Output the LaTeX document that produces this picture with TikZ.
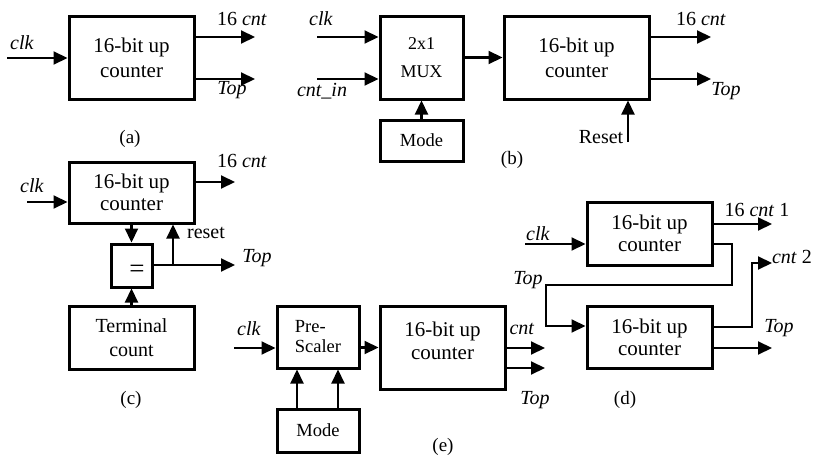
\documentclass[tikz,border=0pt]{standalone}
\usepackage{fontspec}
\setmainfont{Liberation Serif}
\usetikzlibrary{arrows.meta}
\begin{document}
\begin{tikzpicture}[x=1pt,y=-1pt,
  box/.style={draw, line width=3pt, inner sep=0pt, align=center, font=\fontsize{21}{25}\selectfont},
  sbox/.style={draw, line width=3pt, inner sep=0pt, align=center, font=\fontsize{18.5}{23}\selectfont},
  arr/.style={line width=2.1pt, -{Triangle[length=14pt,width=13pt]}},
  lbl/.style={inner sep=0pt, font=\fontsize{20}{24}\selectfont},
  subcap/.style={inner sep=0pt, font=\fontsize{19}{23}\selectfont}]
\useasboundingbox (0,0) rectangle (815,455);

% ---------------- (a)
\node[box, minimum width=125pt, minimum height=83pt] (cA) at (131.5,57.5) {16-bit up\\counter};
\coordinate (aclk) at (7,58);
\coordinate (acnt) at (255,37);
\coordinate (atop) at (255,79);
\draw[arr] (aclk) -- (aclk -| cA.west);
\draw[arr] (acnt -| cA.east) -- (acnt);
\draw[arr] (atop -| cA.east) -- (atop);
\node[lbl] (aclkl) at (22,43) {\textit{clk}};
\node[lbl] (acntl) at (242,19) {16 \textit{cnt}};
\node[lbl] (atopl) at (232,90) {\textit{Top}};
\node[subcap] (capa) at (130,139) {(a)};

% ---------------- (b)
\node[sbox, minimum width=83pt, minimum height=83pt, font=\fontsize{18}{28}\selectfont] (mux) at (421.5,57.5) {2x1\\MUX};
\node[sbox, minimum width=83pt, minimum height=41pt] (bmode) at (421.5,140.5) {Mode};
\node[box, minimum width=145pt, minimum height=83pt] (cB) at (576.5,57.5) {16-bit up\\counter};
\coordinate (bclk) at (317,37);
\coordinate (bin) at (317,79);
\coordinate (bcnt) at (711,37);
\coordinate (btop) at (711,79);
\coordinate (brst) at (628,142);
\draw[arr] (bclk) -- (bclk -| mux.west);
\draw[arr] (bin) -- (bin -| mux.west);
\draw[arr] (bmode.north) -- (mux.south);
\draw[arr] (mux.east) -- (cB.west);
\draw[arr] (bcnt -| cB.east) -- (bcnt);
\draw[arr] (btop -| cB.east) -- (btop);
\draw[arr] (brst) -- (brst |- cB.south);
\node[lbl] (bclkl) at (321,19) {\textit{clk}};
\node[lbl] (binl) at (322,91) {\textit{cnt\_in}};
\node[lbl] (bcntl) at (701,19) {16 \textit{cnt}};
\node[lbl] (btopl) at (726,91) {\textit{Top}};
\node[lbl] (brstl) at (601,137) {Reset};
\node[subcap] (capb) at (512,160) {(b)};

% ---------------- (c)
\node[box, minimum width=125pt, minimum height=61pt, font=\fontsize{21}{22}\selectfont] (cC) at (131.5,192.5) {16-bit up\\counter};
\node[draw, line width=3pt, minimum width=41pt, minimum height=43pt, inner sep=0pt] (eq) at (131.5,265.5) {};
\node[inner sep=0pt, font=\fontsize{27}{30}\selectfont] (eqs) at (137,271) {=};
\node[box, minimum width=125pt, minimum height=63pt, font=\fontsize{20}{24}\selectfont] (term) at (131.5,337.5) {Terminal\\count};
\coordinate (cclk) at (27,202);
\coordinate (ccnt) at (235,182);
\coordinate (ctop) at (235,265);
\coordinate (cj) at (173,265);
\draw[arr] (cclk) -- (cclk -| cC.west);
\draw[arr] (ccnt -| cC.east) -- (ccnt);
\draw[arr] (cC.south) -- (eq.north);
\draw[arr] (term.north) -- (eq.south);
\draw[arr] (ctop -| eq.east) -- (ctop);
\draw[arr] (cj) -- (cj |- cC.south);
\node[lbl] (cclkl) at (32,186) {\textit{clk}};
\node[lbl] (ccntl) at (242,161) {16 \textit{cnt}};
\node[lbl] (crstl) at (206,233) {reset};
\node[lbl] (ctopl) at (257,258) {\textit{Top}};
\node[subcap] (capc) at (131,400) {(c)};

% ---------------- (d)
\node[box, minimum width=125pt, minimum height=63pt, font=\fontsize{21}{22}\selectfont] (cD1) at (649.5,233.5) {16-bit up\\counter};
\node[box, minimum width=125pt, minimum height=62pt, font=\fontsize{21}{22}\selectfont] (cD2) at (649.5,337) {16-bit up\\counter};
\coordinate (dclk) at (525,244);
\coordinate (dcnt1) at (772,224);
\coordinate (dtopo) at (712,244);
\coordinate (dtopi) at (587,326);
\coordinate (dc2o) at (712,327);
\coordinate (dcnt2) at (772,263);
\coordinate (dtop) at (772,348);
\draw[arr] (dclk) -- (dclk -| cD1.west);
\draw[arr] (dcnt1 -| cD1.east) -- (dcnt1);
\draw[arr] (dtopo -| cD1.east) -- (732,244) -- (732,285) -- (546,285) -- (546,326) -- (dtopi -| cD2.west);
\draw[arr] (dc2o -| cD2.east) -- (752,327) -- (752,263) -- (dcnt2);
\draw[arr] (dtop -| cD2.east) -- (dtop);
\node[lbl] (dclkl) at (538,234) {\textit{clk}};
\node[lbl] (dcnt1l) at (757,210) {16 \textit{cnt} 1};
\node[lbl] (dcnt2l) at (792,257) {\textit{cnt} 2};
\node[lbl] (dtopl1) at (528,280) {\textit{Top}};
\node[lbl] (dtopl2) at (779,328) {\textit{Top}};
\node[subcap] (capd) at (625,400) {(d)};

% ---------------- (e)
\node[draw, line width=3pt, inner sep=0pt, align=left, font=\fontsize{18.5}{20}\selectfont, minimum width=82pt, minimum height=62pt] (pre) at (318,337) {Pre-\\Scaler};
\node[draw, line width=3pt, inner sep=0pt, minimum width=125pt, minimum height=83pt] (cE) at (442.5,347.5) {};
\node[inner sep=0pt, align=center, font=\fontsize{21}{23}\selectfont] (cEt) at ([yshift=7pt]cE.center) {16-bit up\\counter};
\node[sbox, minimum width=82pt, minimum height=43pt] (emode) at (318,430.5) {Mode};
\coordinate (eclk) at (234,348);
\coordinate (ecnt) at (545,348);
\coordinate (etop) at (545,368);
\draw[arr] (eclk) -- (eclk -| pre.west);
\draw[arr] (pre.east |- cE.west) -- (cE.west);
\draw[arr] (ecnt -| cE.east) -- (ecnt);
\draw[arr] (etop -| cE.east) -- (etop);
\draw[arr] ([xshift=-21pt]emode.north) -- ([xshift=-21pt]pre.south);
\draw[arr] ([xshift=20pt]emode.north) -- ([xshift=20pt]pre.south);
\node[lbl] (eclkl) at (249,329) {\textit{clk}};
\node[lbl] (ecntl) at (522,329) {\textit{cnt}};
\node[lbl] (etopl) at (535,400) {\textit{Top}};
\node[subcap] (cape) at (443,447) {(e)};
\end{tikzpicture}
\end{document}
